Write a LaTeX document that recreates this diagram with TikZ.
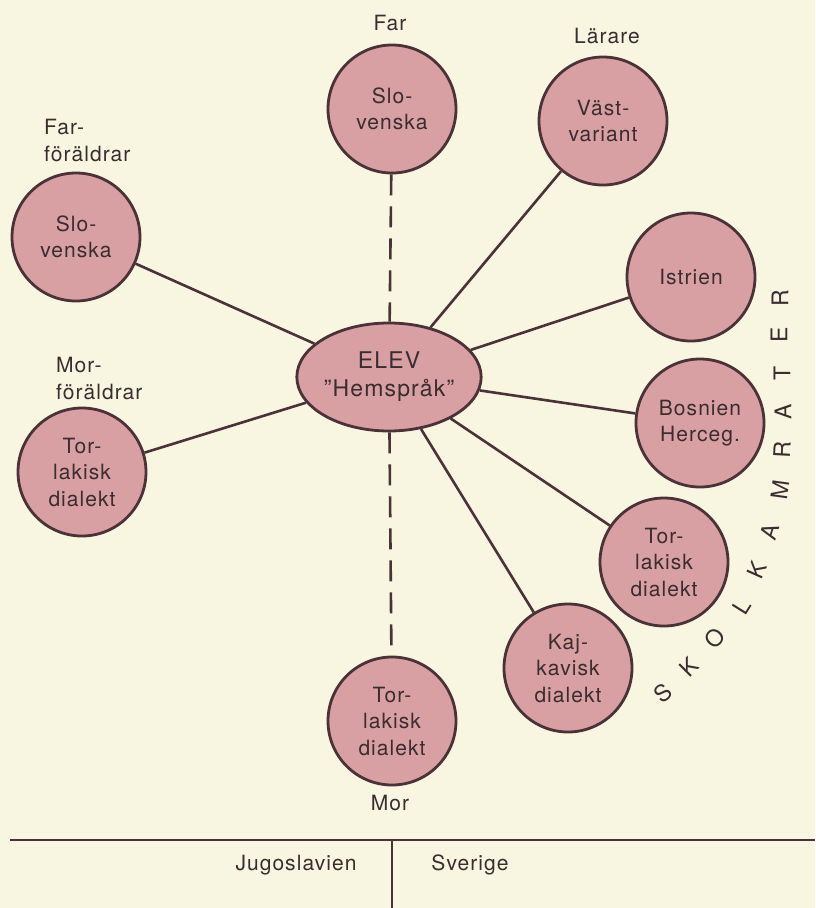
\documentclass[tikz,border=0pt]{standalone}
\usepackage{fontspec}
\setmainfont{TeX Gyre Heros}[LetterSpace=5]
\usetikzlibrary{shapes.geometric}
\definecolor{paper}{RGB}{248,245,224}
\definecolor{rose}{RGB}{216,160,162}
\definecolor{ink}{RGB}{74,50,56}
\definecolor{txt}{RGB}{58,44,48}
\begin{document}
\begin{tikzpicture}[x=1pt,y=-1pt,
  every node/.style={text=txt, font=\fontsize{21}{26.5}\selectfont},
  lang/.style={circle, draw=ink, fill=rose, line width=2.8pt,
    minimum size=128pt, inner sep=0pt, align=center},
  pupil/.style={ellipse, draw=ink, fill=rose, line width=2.8pt,
    minimum width=180pt, minimum height=108pt, inner sep=0pt, align=center,
    font=\fontsize{23}{28}\selectfont},
  link/.style={draw=ink, line width=2.6pt},
  dashlink/.style={draw=ink, line width=2.6pt, dash pattern=on 21pt off 11pt},
  who/.style={inner sep=0pt, anchor=base},
  rim/.style={inner sep=0pt, anchor=center, font=\fontsize{23}{26}\selectfont}
]
\useasboundingbox (0,0) rectangle (815,908);
\fill[paper] (0,0) rectangle (815,908);

% central pupil
\node[pupil] (elev) at (389,377) {ELEV\\”Hemspråk”};

% family and teacher
\node[lang] (far)  at (392,109) {Slo-\\venska};
\node[lang] (lar)  at (603,121) {Väst-\\variant};
\node[lang] (ffor) at (76,237)  {Slo-\\venska};
\node[lang] (mfor) at (82,472)  {Tor-\\lakisk\\dialekt};
\node[lang] (mor)  at (392,721) {Tor-\\lakisk\\dialekt};

% classmates
\node[lang] (ist)  at (691,277) {Istrien};
\node[lang] (bos)  at (700,423) {Bosnien\\Herceg.};
\node[lang] (tor)  at (664,562) {Tor-\\lakisk\\dialekt};
\node[lang] (kaj)  at (568,668) {Kaj-\\kavisk\\dialekt};

% connectors
\draw[dashlink] (far) -- (elev);
\draw[dashlink] (elev) -- (mor);
\foreach \n in {lar,ffor,mfor,ist,bos,tor,kaj}
  \draw[link] (elev) -- (\n);

% role labels
\node[who] (lfar) at (390,30) {Far};
\node[who] (llar) at (607,43) {Lärare};
\node[who] (lmor) at (390,810) {Mor};
\node[inner sep=0pt, anchor=north west, align=left] (lffor) at (44,119) {Far-\\föräldrar};
\node[inner sep=0pt, anchor=north west, align=left] (lmfor) at (56,357) {Mor-\\föräldrar};

% classmates caption, set letter by letter along the arc
\node[rim, rotate=40] (s1)  at (663,693) {S};
\node[rim, rotate=45] (s2)  at (689,667) {K};
\node[rim, rotate=50] (s3)  at (715,638) {O};
\node[rim, rotate=58] (s4)  at (742,607) {L};
\node[rim, rotate=66] (s5)  at (757,570) {K};
\node[rim, rotate=73] (s6)  at (770,532) {A};
\node[rim, rotate=82] (s7)  at (780,490) {M};
\node[rim, rotate=87] (s8)  at (782,450) {R};
\node[rim, rotate=90] (s9)  at (783,412) {A};
\node[rim, rotate=90] (s10) at (782,373) {T};
\node[rim, rotate=90] (s11) at (779,335) {E};
\node[rim, rotate=90] (s12) at (780,298) {R};

% country border
\coordinate (bl) at (10,840);
\coordinate (br) at (815,840);
\coordinate (bt) at (392,840);
\coordinate (bb) at (392,908);
\draw[draw=ink, line width=2.8pt] (bl) -- (br);
\draw[draw=ink, line width=2.6pt] (bt) -- (bb);
\node[who] (jug) at (296,870) {Jugoslavien};
\node[who] (sve) at (470,870) {Sverige};
\end{tikzpicture}
\end{document}
